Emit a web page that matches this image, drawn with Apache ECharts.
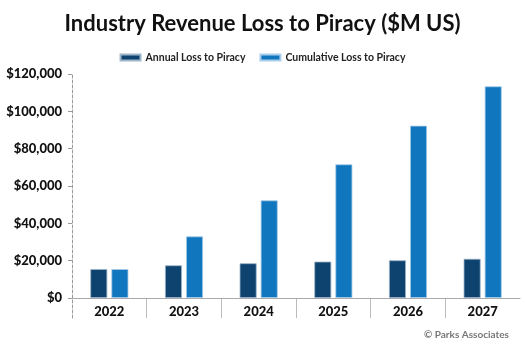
<!DOCTYPE html>
<html><head><meta charset="utf-8">
<script src="https://cdn.jsdelivr.net/npm/echarts@6/dist/echarts.min.js"></script>
<style>html,body{margin:0;padding:0;background:#fff}#c{width:525px;height:346px}</style>
</head><body><div id="c"></div>
<script>
const years = ['2022','2023','2024','2025','2026','2027'];
const annualLoss = [15500, 17500, 18600, 19500, 20200, 21000];
const cumulativeLoss = [15500, 33000, 52300, 71600, 92300, 113400];
const seriesNames = ['Annual Loss to Piracy', 'Cumulative Loss to Piracy'];
const yMax = 120000, yInterval = 20000;

const FONT = 'Lato';
const chart = echarts.init(document.getElementById('c'), null, {renderer: 'canvas'});
chart.setOption({
  animation: false,
  backgroundColor: '#fff',
  title: [{
    text: 'Industry Revenue Loss to Piracy ($M US)',
    left: 'center', top: 8,
    textStyle: {fontFamily: FONT, fontWeight: 'bold', fontSize: 22, color: '#111'}
  }, {
    text: '© Parks Associates',
    right: 11, top: 325,
    textStyle: {fontFamily: FONT, fontWeight: 'bold', fontSize: 10, color: '#777'}
  }],
  legend: {
    top: 47, left: 'center',
    itemWidth: 20, itemHeight: 6, itemGap: 14,
    icon: 'rect',
    textStyle: {fontFamily: FONT, fontWeight: 'bold', fontSize: 10.5, color: '#222'},
    data: seriesNames
  },
  grid: [
    {left: 72, right: 5, top: 74, height: 224, containLabel: false},
    {left: 72, right: 5, top: 298, height: 20, containLabel: false}
  ],
  xAxis: [{
    type: 'category', data: years, gridIndex: 0,
    axisLine: {lineStyle: {color: '#aaa', width: 1}},
    axisTick: {show: false},
    axisLabel: {fontFamily: FONT, fontWeight: 900, fontSize: 13, color: '#111', margin: 7}
  }, {
    type: 'category', data: years, gridIndex: 1,
    axisLine: {show: false}, axisTick: {show: false}, axisLabel: {show: false},
    splitLine: {show: true, showMinLine: false, showMaxLine: false, lineStyle: {color: '#bbb', width: 1}}
  }],
  yAxis: [{
    type: 'value', gridIndex: 0, min: 0, max: yMax, interval: yInterval,
    axisLine: {show: true, lineStyle: {color: '#999', type: [3, 2], width: 1}},
    axisTick: {show: true, length: 4, lineStyle: {color: '#999'}},
    splitLine: {show: false},
    axisLabel: {
      fontFamily: FONT, fontWeight: 900, fontSize: 13, color: '#111', margin: 10,
      formatter: v => '$' + v.toLocaleString('en-US')
    }
  }, {
    type: 'value', gridIndex: 1, min: 0, max: 1,
    axisLine: {show: true, lineStyle: {color: '#999', type: [3, 2], width: 1}},
    axisTick: {show: false}, axisLabel: {show: false}, splitLine: {show: false}
  }],
  series: [{
    name: seriesNames[0], type: 'bar', data: annualLoss,
    barWidth: 17, barGap: '24%',
    itemStyle: {color: '#0e436f', borderColor: '#9fb6ca', borderWidth: 0.8}
  }, {
    name: seriesNames[1], type: 'bar', data: cumulativeLoss,
    barWidth: 17, barGap: '24%',
    itemStyle: {color: '#1077be', borderColor: '#a9cdea', borderWidth: 0.8}
  }]
});
</script></body></html>
